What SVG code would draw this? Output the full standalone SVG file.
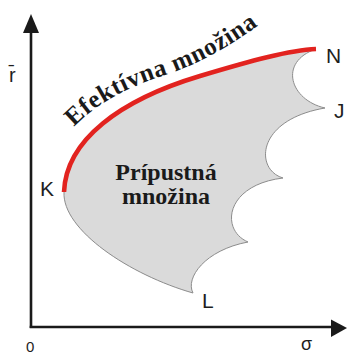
<svg xmlns="http://www.w3.org/2000/svg" width="347" height="354" viewBox="0 0 347 354">
<style>
.lbl{font-family:"Liberation Sans",Arial,sans-serif;font-size:21px;fill:#1e1e1e}
.ttl{font-family:"Liberation Serif","Times New Roman",serif;font-weight:bold;font-size:24px;fill:#1a1a1a}
.axis{stroke:#1a1a1a;stroke-width:2.6;fill:none}
</style>
<defs>
<path id="tp" d="M 74 127 C 96 104, 125 88, 165 75 C 195 65, 225 50, 260 24"/>
</defs>
<rect width="347" height="354" fill="#ffffff"/>
<g id="region">
<path d="M 64 192 C 62 230, 130 275, 193 293 C 185 278, 205 250, 248 242 C 220 230, 225 185, 283 178 C 255 170, 255 120, 325 108 C 290 100, 278 62, 316 49 C 290 50, 250 61, 200 76 C 120 100, 66 140, 64 192 Z" fill="#dadada" stroke="#8c8c8c" stroke-width="1"/>
<text class="ttl" x="166" y="180" text-anchor="middle">Prípustná</text>
<text class="ttl" x="166" y="204" text-anchor="middle">množina</text>
</g>
<g id="frontier">
<path d="M 64 192 C 66 140, 120 100, 200 76 C 250 61, 290 50, 316 49" fill="none" stroke="#e2231f" stroke-width="4.6"/>
<text class="ttl" style="font-size:25px;letter-spacing:0.6px"><textPath href="#tp">Efektívna množina</textPath></text>
</g>
<g id="axes">
<line class="axis" x1="31" y1="328" x2="31" y2="30"/>
<polygon points="31,14 23,33 39,33" fill="#1a1a1a"/>
<line class="axis" x1="29.7" y1="327" x2="333" y2="327"/>
<polygon points="347,328 331,319.5 331,337" fill="#1a1a1a"/>
</g>
<g id="labels">
<text class="lbl" x="9" y="82" style="font-size:20px">r̄</text>
<text class="lbl" x="40" y="196">K</text>
<text class="lbl" x="326" y="63">N</text>
<text class="lbl" x="334" y="118">J</text>
<text class="lbl" x="202" y="308">L</text>
<text class="lbl" x="26" y="352" style="font-size:15px">0</text>
<text class="lbl" x="301" y="350" style="font-size:18px">σ</text>
</g>
</svg>
